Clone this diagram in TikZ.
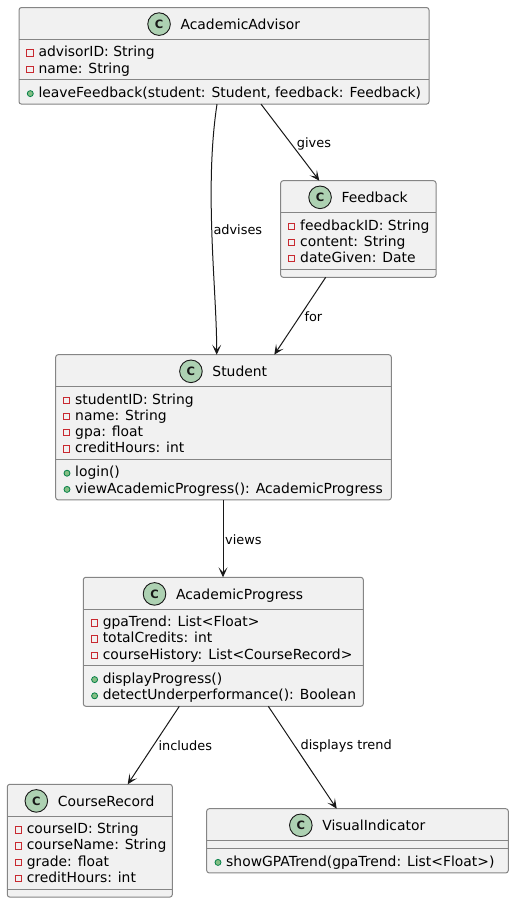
\documentclass[tikz,border=0pt]{standalone}
\usepackage{fontspec}
\setmainfont{DejaVu Sans}
\usetikzlibrary{calc,arrows.meta}

\definecolor{boxfill}{HTML}{F1F1F1}
\definecolor{boxline}{HTML}{858585}
\definecolor{inkdark}{HTML}{181818}
\definecolor{classicon}{HTML}{ADD1B2}
\definecolor{privred}{HTML}{C82930}
\definecolor{pubfill}{HTML}{84BE84}
\definecolor{publine}{HTML}{038048}

% one class box: name, x, y, width, title, #attributes, #operations
\newcommand\classnode[7]{%
  \pgfmathsetmacro\compA{ifthenelse(#6==0,8,24.2+(#6-1)*16.2)}%
  \pgfmathsetmacro\compM{ifthenelse(#7==0,8,24.2+(#7-1)*16.2)}%
  \pgfmathsetmacro\boxH{32+\compA+\compM}%
  \node[classbox, minimum width=#4pt, minimum height=\boxH pt, anchor=north west] (#1) at (#2,#3) {};
  \draw[sepline] ($(#1.north west)+(0,32)$) -- ($(#1.north east)+(0,32)$);
  \draw[sepline] ($(#1.north west)+(0,32+\compA)$) -- ($(#1.north east)+(0,32+\compA)$);
  \node[titletext] (#1-title) at ($(#1.north)+(0,22)$) {\hspace{32.6pt}#5};
  \draw[classicon] ($(#1-title.base west)+(11.3,-5.4)$) circle[radius=11.3];
  \node[classletter] at ($(#1-title.base west)+(11.3,-5.4)$) {C};
}

% private attributes: node, list
\newcommand\classattrs[2]{%
  \foreach \txt [count=\k] in {#2} {
    \pgfmathsetmacro\by{32+17.3+(\k-1)*16.2}
    \draw[privmark] ($(#1.north west)+(11,\by-3.8)$) ++(-3.2,-3.2) rectangle ++(6.4,6.4);
    \node[membertext] at ($(#1.north west)+(19.3,\by)$) {\txt};
  }%
}

% public operations: node, number of attributes, list
\newcommand\classops[3]{%
  \pgfmathsetmacro\opstart{32+ifthenelse(#2==0,8,24.2+(#2-1)*16.2)}%
  \foreach \txt [count=\k] in {#3} {
    \pgfmathsetmacro\by{\opstart+17.3+(\k-1)*16.2}
    \draw[pubmark] ($(#1.north west)+(11.3,\by-3.6)$) circle[radius=3];
    \node[membertext] at ($(#1.north west)+(19.3,\by)$) {\txt};
  }%
}

\begin{document}
\begin{tikzpicture}[x=1pt, y=-1pt,
  classbox/.style={draw=boxline, fill=boxfill, line width=1pt, rounded corners=2.5pt,
    inner sep=0pt, outer sep=0pt},
  sepline/.style={draw=boxline, line width=1pt},
  titletext/.style={inner sep=0pt, anchor=base, font=\fontsize{13.9}{16}\selectfont, text=black},
  classicon/.style={draw=inkdark, line width=0.9pt, fill=classicon},
  classletter/.style={inner sep=0pt, font=\fontsize{11.5}{12}\selectfont\bfseries, text=inkdark},
  membertext/.style={inner sep=0pt, anchor=base west, font=\fontsize{13.9}{16}\selectfont, text=black},
  privmark/.style={draw=privred, line width=1pt},
  pubmark/.style={draw=publine, fill=pubfill, line width=0.8pt},
  edge/.style={draw=inkdark, line width=1pt, -{Stealth[length=10pt,width=9pt,inset=5pt]}},
  edgelabel/.style={inner sep=0pt, anchor=base west, font=\fontsize{12.9}{15}\selectfont, text=black}]
\useasboundingbox (0,0) rectangle (514,903);

% classes
\classnode{advisor}{19}{7.5}{410}{AcademicAdvisor}{2}{1}
\classattrs{advisor}{advisorID: String, name: String}
\classops{advisor}{2}{{leaveFeedback(student: Student, feedback: Feedback)}}

\classnode{feedback}{280.7}{180.7}{155.3}{Feedback}{3}{0}
\classattrs{feedback}{feedbackID: String, content: String, dateGiven: Date}

\classnode{student}{55.7}{354.7}{335.6}{Student}{4}{2}
\classattrs{student}{studentID: String, name: String, gpa: float, creditHours: int}
\classops{student}{4}{login(), viewAcademicProgress(): AcademicProgress}

\classnode{progress}{83.3}{577.3}{280}{AcademicProgress}{3}{2}
\classattrs{progress}{gpaTrend: List<Float>, totalCredits: int, courseHistory: List<CourseRecord>}
\classops{progress}{3}{displayProgress(), detectUnderperformance(): Boolean}

\classnode{course}{7.3}{784.3}{165}{CourseRecord}{4}{0}
\classattrs{course}{courseID: String, courseName: String, grade: float, creditHours: int}

\classnode{visual}{206.7}{808.7}{301.6}{VisualIndicator}{0}{1}
\classops{visual}{0}{showGPATrend(gpaTrend: List<Float>)}

% associations
\draw[edge] ($(advisor.south west)+(198,0)$) .. controls +(-13,86) and +(0,-65) .. ($(student.north west)+(161,0)$);
\draw[edge] ($(advisor.south west)+(242,0)$) -- ($(feedback.north west)+(38.6,0)$);
\draw[edge] ($(feedback.south west)+(45,0)$) -- ($(student.north west)+(218.6,0)$);
\draw[edge] ($(student.south west)+(167.3,0)$) -- ($(progress.north west)+(139.7,0)$);
\draw[edge] ($(progress.south west)+(96,0)$) -- ($(course.north west)+(120.4,0)$);
\draw[edge] ($(progress.south west)+(185,0)$) -- ($(visual.north west)+(130,0)$);

% association labels
\node[edgelabel] (lbl-advises) at (213.3,234) {advises};
\node[edgelabel] (lbl-gives) at (296.7,147) {gives};
\node[edgelabel] (lbl-for) at (304.3,321.2) {for};
\node[edgelabel] (lbl-views) at (225,544) {views};
\node[edgelabel] (lbl-includes) at (158.3,750) {includes};
\node[edgelabel] (lbl-trend) at (300.5,749.5) {displays trend};
\end{tikzpicture}
\end{document}
